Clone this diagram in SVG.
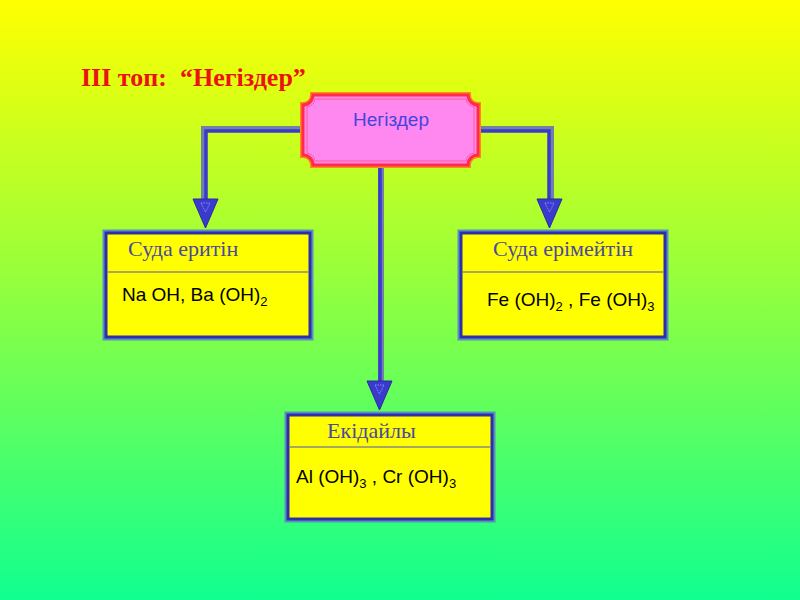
<svg xmlns="http://www.w3.org/2000/svg" width="800" height="600" viewBox="0 0 800 600">
<defs>
<linearGradient id="bg" x1="0" y1="0" x2="0" y2="1">
<stop offset="0" stop-color="#ffff00"/>
<stop offset="0.45" stop-color="#99ff3a"/>
<stop offset="1" stop-color="#10ff90"/>
</linearGradient>
</defs>
<style>
.shadow{fill:none;stroke:#7080a8;stroke-width:6}
.line{fill:none;stroke:#3a3acc;stroke-width:3.5}
.head{fill:#3a3acc;stroke:#2a2aa0;stroke-width:1}
.inner{fill:none;stroke:#9aa0ff;stroke-width:0.8;stroke-dasharray:1.5 1}
.boxo{fill:none;stroke:#5a90c0;stroke-width:5}
.boxi{fill:#ffff00;stroke:#2e2eaa;stroke-width:3}
.div{stroke:#8a8a80;stroke-width:1.5}
.ttl{font-family:"Liberation Serif","Times New Roman",serif;font-size:22px;fill:#4a4a9a}
.cnt{font-family:"Liberation Sans",Arial,sans-serif;font-size:19px;fill:#000}
.sub{font-size:13px}
</style>
<rect x="0" y="0" width="800" height="600" fill="url(#bg)"/>
<text x="81" y="86" font-family="'Liberation Serif','Times New Roman',serif" font-weight="bold" font-size="26" fill="#ee1111">ІІІ топ:&#160; “Негіздер”</text>

<g id="connectors">
<polyline class="shadow" points="303,129 204,129 204,200"/>
<polyline class="line" points="303,131 206,131 206,200"/>
<polygon class="head" points="193,199 218,199 205.5,228"/>
<polygon class="inner" points="201,203 210,203 205.5,212"/>

<polyline class="shadow" points="478,129 551,129 551,200"/>
<polyline class="line" points="478,131 549,131 549,200"/>
<polygon class="head" points="537,199 562,199 549.5,228"/>
<polygon class="inner" points="545,203 554,203 549.5,212"/>

<line class="shadow" x1="381" y1="165" x2="381" y2="382"/>
<line class="line" x1="380" y1="165" x2="380" y2="382"/>
<polygon class="head" points="367,381 392,381 379.5,410"/>
<polygon class="inner" points="375,385 384,385 379.5,394"/>
</g>

<g id="node-negizder">
<path d="M313,95 L468,95 A10 10 0 0 0 478,105 L478,155 A10 10 0 0 0 468,165 L313,165 A10 10 0 0 0 303,155 L303,105 A10 10 0 0 0 313,95 Z" fill="#ff88f0" stroke="#ff8a10" stroke-width="6"/>
<path d="M313,95 L468,95 A10 10 0 0 0 478,105 L478,155 A10 10 0 0 0 468,165 L313,165 A10 10 0 0 0 303,155 L303,105 A10 10 0 0 0 313,95 Z" fill="#ff88f0" stroke="#ff2a50" stroke-width="3"/>
<path d="M315,99 L466,99 A10 10 0 0 0 474,107 L474,153 A10 10 0 0 0 466,161 L315,161 A10 10 0 0 0 307,153 L307,107 A10 10 0 0 0 315,99 Z" fill="none" stroke="#ff5a90" stroke-width="1"/>
<text x="391" y="126" text-anchor="middle" font-family="'Liberation Sans',Arial,sans-serif" font-size="19" fill="#4444dd">Негіздер</text>
</g>

<g id="node-suda-eritin">
<rect class="boxo" x="105" y="232" width="206" height="106"/>
<rect class="boxi" x="106" y="233" width="204" height="104"/>
<line class="div" x1="107" y1="272" x2="309" y2="272"/>
<text class="ttl" x="128" y="256">Суда еритін</text>
<text class="cnt" x="122" y="301">Na OH, Ba (OH)<tspan class="sub" dy="5">2</tspan></text>
</g>

<g id="node-suda-erimeitin">
<rect class="boxo" x="460" y="232" width="206" height="106"/>
<rect class="boxi" x="461" y="233" width="204" height="104"/>
<line class="div" x1="462" y1="272" x2="664" y2="272"/>
<text class="ttl" x="493" y="256">Суда ерімейтін</text>
<text class="cnt" x="487" y="306">Fe (OH)<tspan class="sub" dy="5">2</tspan><tspan dy="-5"> , Fe (OH)</tspan><tspan class="sub" dy="5">3</tspan></text>
</g>

<g id="node-ekidaily">
<rect class="boxo" x="287" y="414" width="206" height="106"/>
<rect class="boxi" x="288" y="415" width="204" height="104"/>
<line class="div" x1="289" y1="447" x2="491" y2="447"/>
<text class="ttl" x="327" y="438">Екідайлы</text>
<text class="cnt" x="296" y="483">Al (OH)<tspan class="sub" dy="5">3</tspan><tspan dy="-5"> , Cr (OH)</tspan><tspan class="sub" dy="5">3</tspan></text>
</g>
</svg>
